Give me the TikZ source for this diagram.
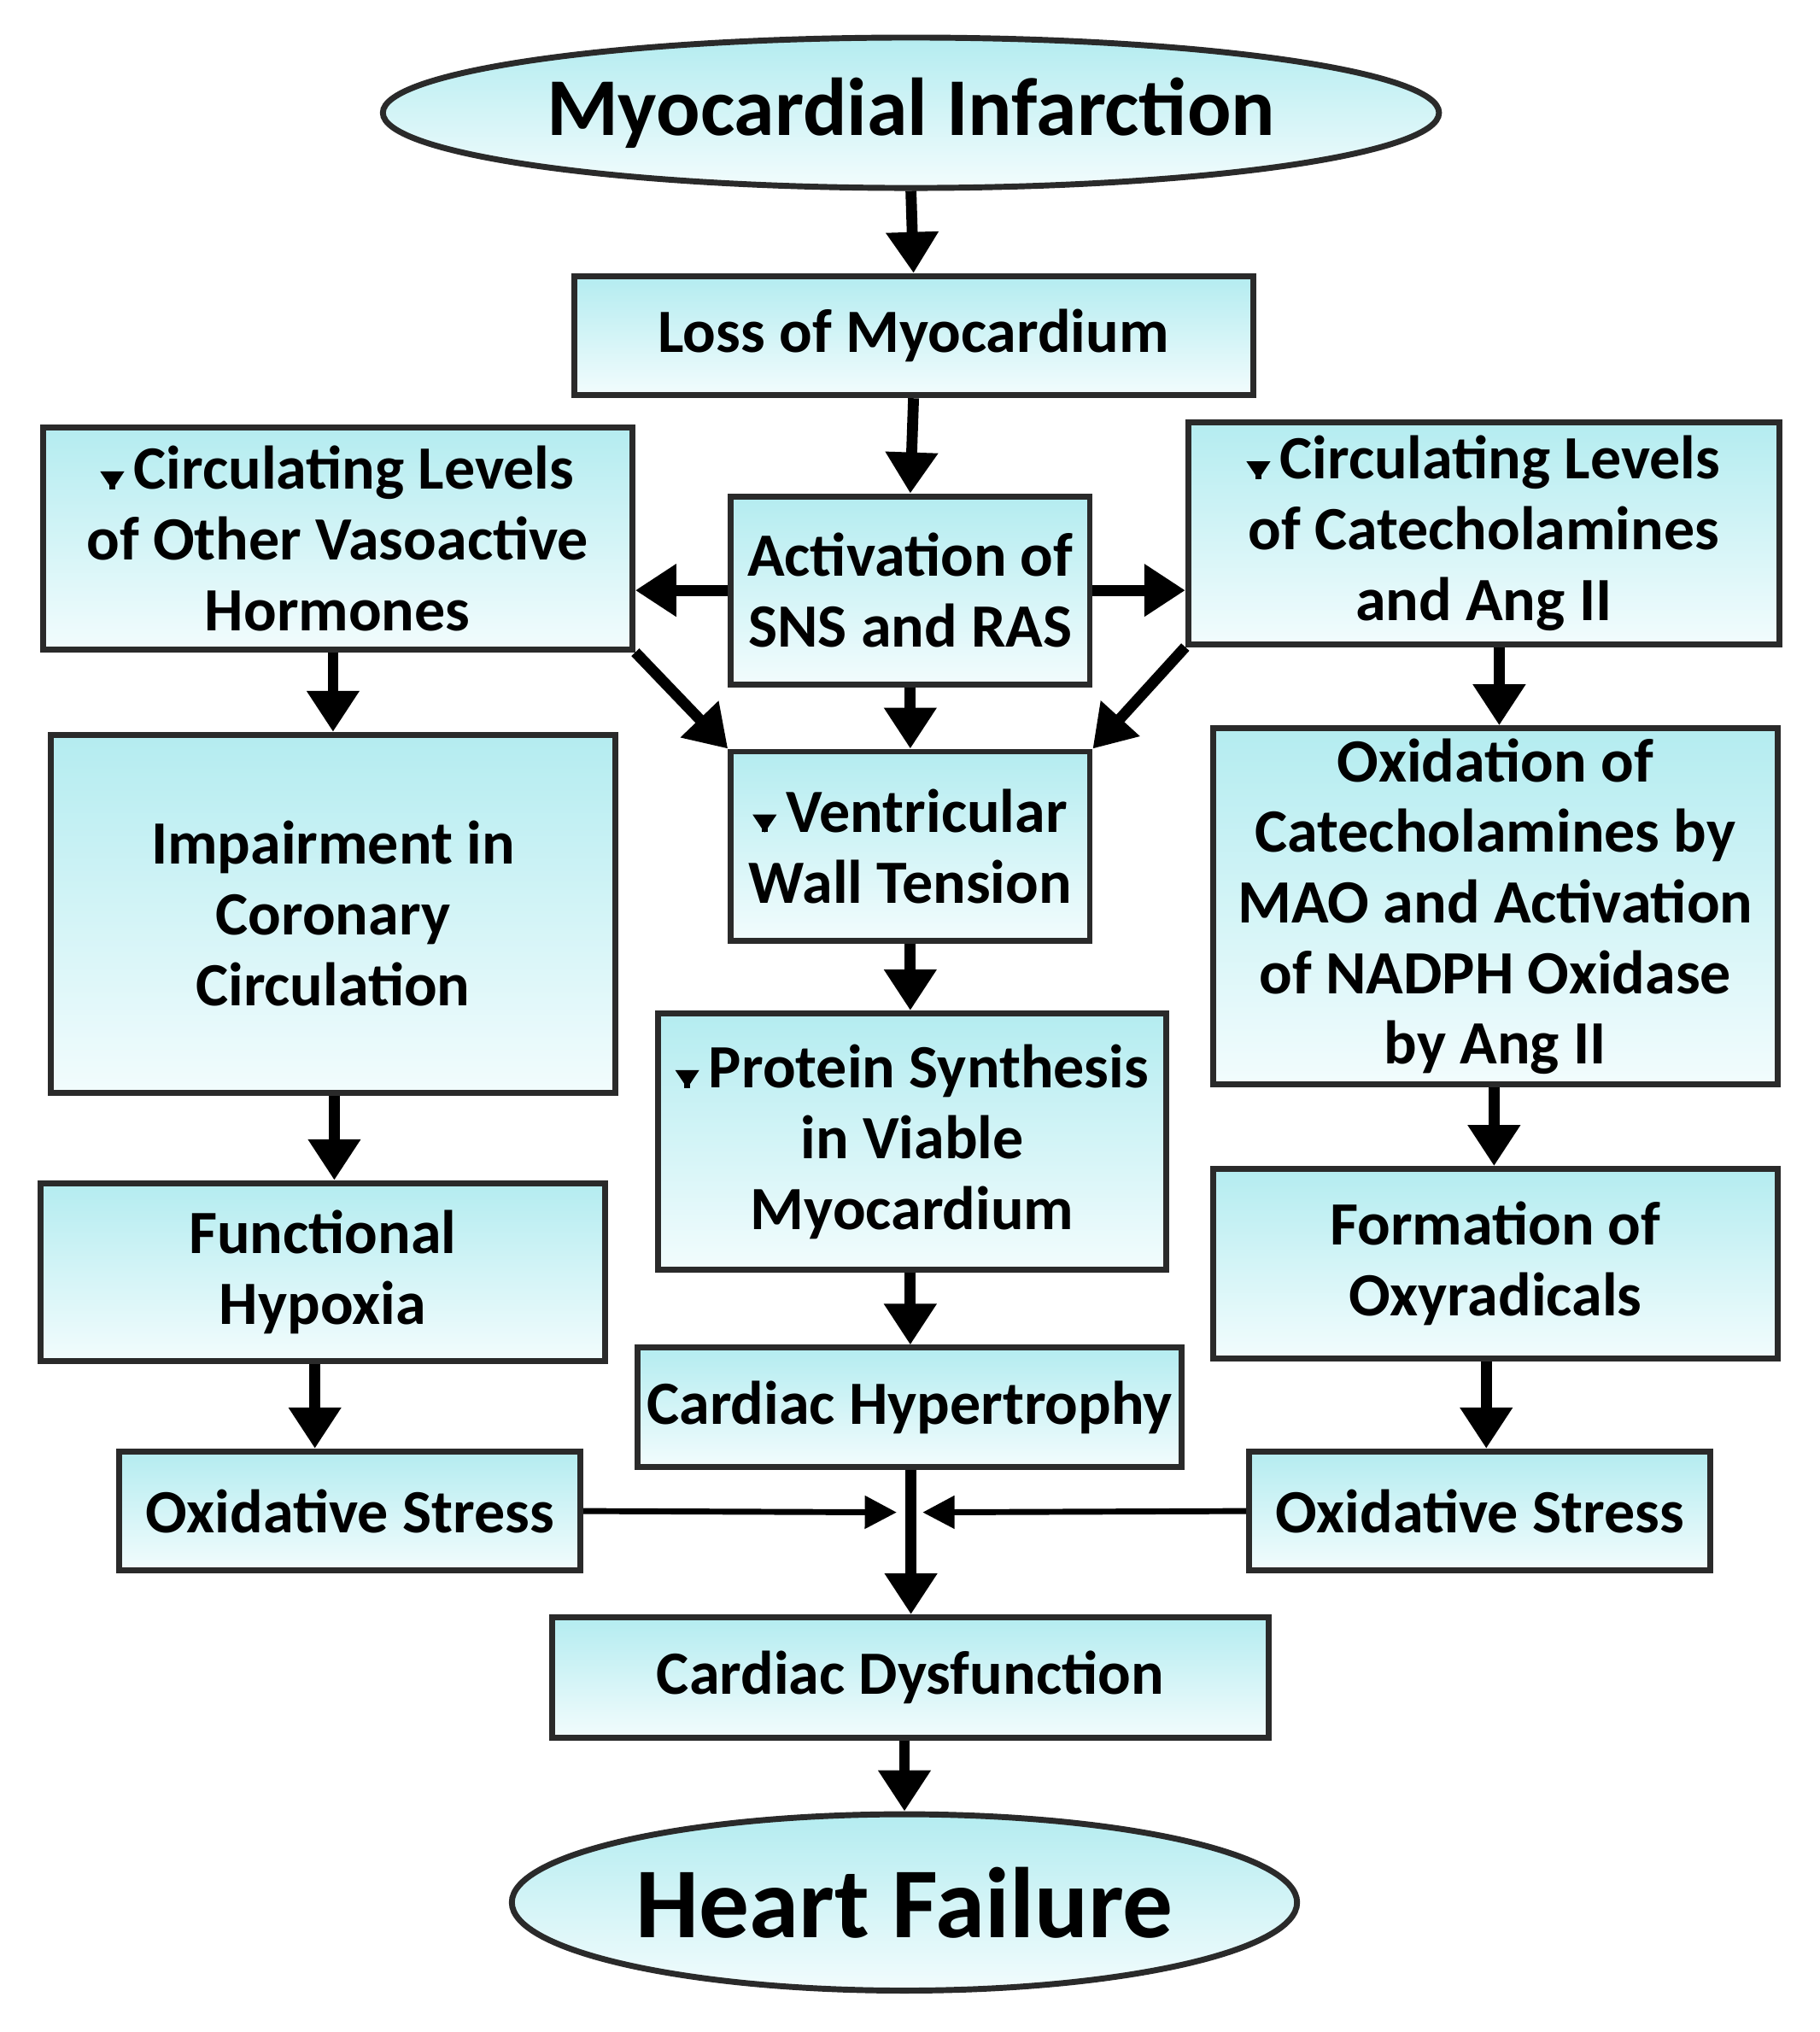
\documentclass[tikz,border=0pt]{standalone}
\usepackage{amsmath}
\usepackage{fontspec}
\setmainfont{Carlito}
\usetikzlibrary{shapes.geometric,arrows.meta}
\definecolor{topc}{HTML}{B4ECF0}
\definecolor{botc}{HTML}{F2FCFD}
\definecolor{edge}{HTML}{2A2A2A}
\tikzset{
  box/.style={draw=edge,line width=1.3pt,top color=topc,bottom color=botc,
    align=center,font=\bfseries\fontsize{13.5}{15.5}\selectfont,inner sep=2pt},
  ell/.style={box,ellipse},
  arr/.style={-{Triangle[length=9pt,width=11pt]},line width=2.4pt,black},
  thin/.style={-{Triangle[length=7pt,width=7pt]},line width=1.3pt,black},
}
\newcommand\mybox[6]{\node[box,minimum width={0.01cm*(#4-#2)},minimum height={0.01cm*(#5-#3)}]
  (#1) at ({(#2+#4)/2},{(#3+#5)/2}) {#6};}
\newcommand\up{\tikz[baseline=0pt]\draw[-{Triangle[length=4pt,width=5pt]},line width=1.2pt](0,0)--(0,0.34);\,}
\begin{document}
\begin{tikzpicture}[x=0.01cm,y=-0.01cm]
\useasboundingbox (0,0) rectangle (1404,1568);
\node[ell,minimum width=7.1cm,minimum height=1.16cm,font=\bfseries\fontsize{18}{20}\selectfont] (mi) at (703,87) {Myocardial Infarction};
\mybox{loss}{443}{213}{967}{305}{Loss of Myocardium}
\mybox{lc}{33}{330}{488}{501}{\up Circulating Levels\\of Other Vasoactive\\Hormones}
\mybox{act}{564}{383}{841}{528}{Activation of\\SNS and RAS}
\mybox{rc}{917}{326}{1373}{497}{\up Circulating Levels\\of Catecholamines\\and Ang II}
\mybox{imp}{39}{567}{475}{843}{Impairment in\\Coronary\\Circulation}
\mybox{ven}{564}{580}{841}{726}{\up Ventricular\\Wall Tension}
\mybox{oxi}{936}{562}{1372}{837}{Oxidation of\\Catecholamines by\\MAO and Activation\\of NADPH Oxidase\\by Ang II}
\mybox{pro}{508}{782}{900}{980}{\up Protein Synthesis\\in Viable\\Myocardium}
\mybox{fun}{31}{913}{467}{1050}{Functional\\Hypoxia}
\mybox{for}{936}{902}{1372}{1048}{Formation of\\Oxyradicals}
\mybox{hyp}{494}{1040}{910}{1132}{Cardiac Hypertrophy}
\mybox{osl}{92}{1120}{448}{1212}{Oxidative Stress}
\mybox{osr}{964}{1120}{1320}{1212}{Oxidative Stress}
\mybox{dys}{426}{1248}{979}{1341}{Cardiac Dysfunction}
\node[ell,minimum width=5.74cm,minimum height=1.36cm,font=\bfseries\fontsize{22}{24}\selectfont] (hf) at (698,1468) {Heart Failure};
\coordinate (jl) at (692,1167);
\coordinate (jr) at (712,1167);
\draw[arr] (mi.south) -- (loss.north);
\draw[arr] (loss.south) -- (act.north);
\draw[arr] (act.west) -- (lc.east|-act.west);
\draw[arr] (act.east) -- (rc.west|-act.east);
\draw[arr] (act.south) -- (ven.north);
\draw[arr] (lc.south east) -- (ven.north west);
\draw[arr] (rc.south west) -- (ven.north east);
\draw[arr] (lc.south-|imp.north) -- (imp.north);
\draw[arr] (imp.south-|258,0) -- (fun.north-|258,0);
\draw[arr] (fun.south-|243,0) -- (osl.north-|243,0);
\draw[arr] (rc.south-|1157,0) -- (oxi.north-|1157,0);
\draw[arr] (oxi.south-|1153,0) -- (for.north-|1153,0);
\draw[arr] (for.south-|1147,0) -- (osr.north-|1147,0);
\draw[arr] (ven.south) -- (pro.north-|ven.south);
\draw[arr] (pro.south-|ven.south) -- (hyp.north-|ven.south);
\draw[arr] (hyp.south-|703,0) -- (dys.north-|703,0);
\draw[thin] (osl.east) -- (jl);
\draw[thin] (osr.west) -- (jr);
\draw[arr] (dys.south-|698,0) -- (hf.north);
\end{tikzpicture}
\end{document}
